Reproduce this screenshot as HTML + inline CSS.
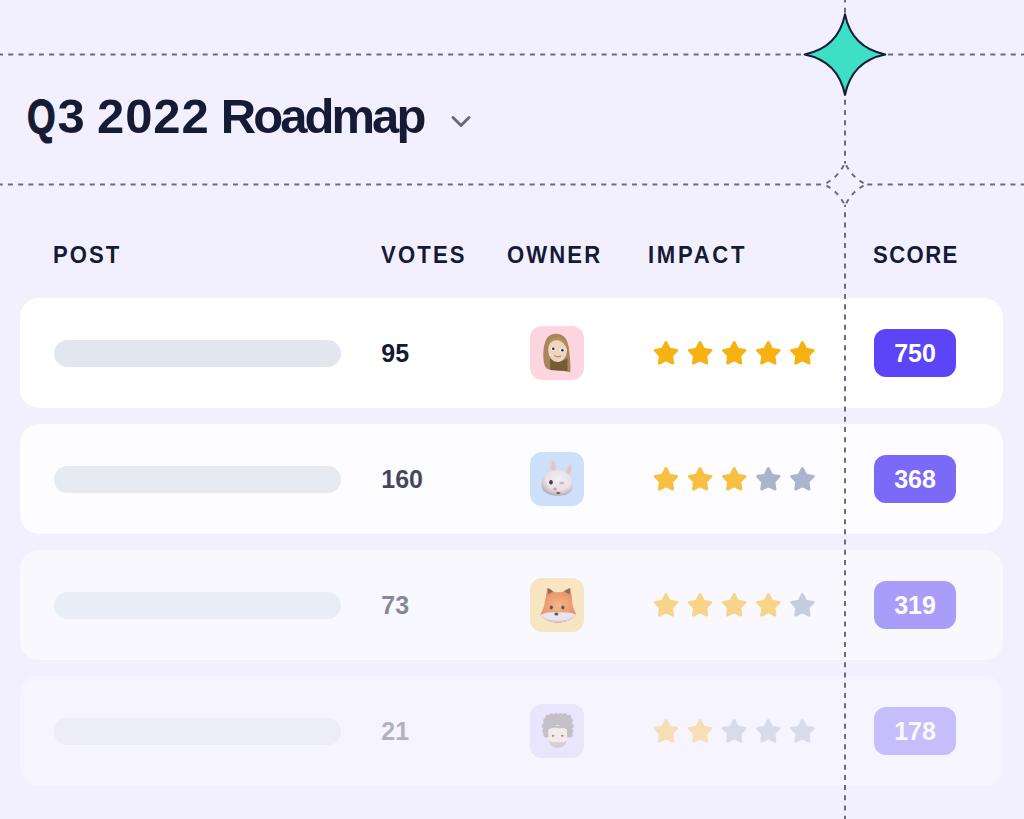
<!DOCTYPE html>
<html><head><meta charset="utf-8">
<style>
html,body{margin:0;padding:0;}
body{width:1024px;height:819px;overflow:hidden;background:#F2F0FE;position:relative;font-family:"Liberation Sans",sans-serif;color:#151A35;}
.abs{position:absolute;}
.title{position:absolute;left:26px;top:84px;font-size:49px;font-weight:700;letter-spacing:-1.8px;white-space:nowrap;line-height:64px;}
.hd{position:absolute;top:240.7px;font-size:24px;font-weight:700;line-height:28px;white-space:nowrap;transform:scaleX(0.92);transform-origin:0 0;}
.card{position:absolute;left:20.3px;width:983px;height:109.8px;border-radius:19px;background:#fff;}
.bar{position:absolute;left:34.2px;top:41.4px;width:287px;height:27px;border-radius:13.5px;background:#E1E6EF;}
.votes{position:absolute;left:361px;top:41px;font-size:25px;font-weight:700;line-height:28px;}
.av{position:absolute;left:509.3px;top:27.6px;width:54px;height:54px;border-radius:12px;overflow:hidden;}
.av svg{position:absolute;left:0;top:0;}
.stars{position:absolute;left:632.7px;top:40px;overflow:visible;}
.badge{position:absolute;left:853.7px;top:30.7px;width:82px;height:48px;border-radius:12px;background:#5B45F6;color:#fff;font-size:25px;font-weight:700;text-align:center;line-height:48px;}
</style></head>
<body>
<div class="title" style="left:26.8px;transform:scaleX(0.75);transform-origin:0 0;-webkit-text-stroke:1.1px #151A35">Q</div><div class="title" style="left:57.5px">3</div><div class="title" style="left:97px;letter-spacing:0.9px">2022</div><div class="title" style="left:220.8px;letter-spacing:-2.95px">Roadmap</div>

<div class="hd" style="left:53.2px;letter-spacing:2.2px">POST</div>
<div class="hd" style="left:381.2px;letter-spacing:2.35px">VOTES</div>
<div class="hd" style="left:507.2px;letter-spacing:2.3px">OWNER</div>
<div class="hd" style="left:647.5px;letter-spacing:2.93px">IMPACT</div>
<div class="hd" style="left:873px;letter-spacing:1.58px">SCORE</div>

<div class="card" style="top:298.3px;background:rgba(255,255,255,1.0)">
  <div class="bar" style="opacity:1.0"></div>
  <div class="votes" style="opacity:1.0">95</div>
  <div class="av" style="background:#FDD5E0;opacity:1.0"><svg width="54" height="54" viewBox="0 0 54 54">
  <path d="M25.5 7.8 C20 8 17 11 15.5 15 C13.5 20 13.2 26 13.3 30 C13.4 35 14 39.5 16.4 42.3 C19 44 23 44.3 27 44.5 C31 44.7 36 45 40.2 46.6 C40.8 41 40.2 34 39.6 29 C39 20 37.5 14 34 10.5 C31.5 8.5 28.5 7.8 25.5 7.8 Z" fill="#A88656"/>
  <path d="M20.2 32 C23 36.5 32 37 37.3 32 L37.6 44.9 C32 44.6 26 44.3 20.2 44 Z" fill="#765A34"/>
  <ellipse cx="27.6" cy="24.2" rx="9.4" ry="11.8" fill="#EFD5BF"/>
  <path d="M18.6 19 C19.5 14.5 22.5 12 26.5 12 C31.5 12 35.5 14 37 19 C37.3 20.5 37.2 22 36.8 23 C35.5 19 32.5 15.5 28 14.3 C24 13.8 20.5 15.8 18.6 19 Z" fill="#B3925E"/>
  <ellipse cx="23.2" cy="22.7" rx="2.5" ry="1.7" fill="#F3F2F2"/>
  <ellipse cx="32.2" cy="24.3" rx="2.5" ry="1.7" fill="#F3F2F2"/>
  <circle cx="23.3" cy="22.7" r="1.3" fill="#2E2F3A"/>
  <circle cx="32.4" cy="24.3" r="1.3" fill="#2E2F3A"/>
  <path d="M24.8 29.8 Q27.5 31.6 30.6 30.2" stroke="#BD8A78" stroke-width="1.3" fill="none" stroke-linecap="round"/>
 </svg></div>
  <div style="opacity:1.0"><svg class="stars" width="180" height="30" viewBox="0 0 180 30"><polygon transform="translate(13.0,15.9)" points="0.00,-11.40 3.48,-4.80 10.84,-3.52 5.64,1.83 6.70,9.22 0.00,5.93 -6.70,9.22 -5.64,1.83 -10.84,-3.52 -3.48,-4.80" fill="#F7B113" stroke="#F7B113" stroke-width="2.8" stroke-linejoin="round"/><polygon transform="translate(47.1,15.9)" points="0.00,-11.40 3.48,-4.80 10.84,-3.52 5.64,1.83 6.70,9.22 0.00,5.93 -6.70,9.22 -5.64,1.83 -10.84,-3.52 -3.48,-4.80" fill="#F7B113" stroke="#F7B113" stroke-width="2.8" stroke-linejoin="round"/><polygon transform="translate(81.2,15.9)" points="0.00,-11.40 3.48,-4.80 10.84,-3.52 5.64,1.83 6.70,9.22 0.00,5.93 -6.70,9.22 -5.64,1.83 -10.84,-3.52 -3.48,-4.80" fill="#F7B113" stroke="#F7B113" stroke-width="2.8" stroke-linejoin="round"/><polygon transform="translate(115.3,15.9)" points="0.00,-11.40 3.48,-4.80 10.84,-3.52 5.64,1.83 6.70,9.22 0.00,5.93 -6.70,9.22 -5.64,1.83 -10.84,-3.52 -3.48,-4.80" fill="#F7B113" stroke="#F7B113" stroke-width="2.8" stroke-linejoin="round"/><polygon transform="translate(149.4,15.9)" points="0.00,-11.40 3.48,-4.80 10.84,-3.52 5.64,1.83 6.70,9.22 0.00,5.93 -6.70,9.22 -5.64,1.83 -10.84,-3.52 -3.48,-4.80" fill="#F7B113" stroke="#F7B113" stroke-width="2.8" stroke-linejoin="round"/></svg></div>
  <div class="badge" style="opacity:1.0">750</div>
</div>
<div class="card" style="top:424.3px;background:rgba(255,255,255,0.8)">
  <div class="bar" style="opacity:0.85"></div>
  <div class="votes" style="opacity:0.8">160</div>
  <div class="av" style="background:#C9DEFB;opacity:0.92"><svg width="54" height="54" viewBox="0 0 54 54">
  <defs><radialGradient id="bh" cx="0.55" cy="0.35" r="0.7"><stop offset="0" stop-color="#F4EEF2"/><stop offset="0.6" stop-color="#E6DEE4"/><stop offset="1" stop-color="#A89CA8"/></radialGradient></defs>
  <path d="M19.5 19.5 C19 13 20.5 8 23.1 7.7 C26 7.6 27.3 13 26.8 20 Z" fill="#DCD2D9"/>
  <path d="M21.5 18.5 C21.3 13.5 22.2 10 23.3 9.8 C24.6 10 25.2 13.5 25 18.5 Z" fill="#E2BBC6"/>
  <path d="M34.5 21.5 C35.5 16.5 38.2 12 40.8 12 C42.8 13 42.4 18.5 40.2 23.5 Z" fill="#DCD2D9"/>
  <path d="M36.4 21 C37.3 17 38.9 14 40.5 14 C41.2 15.5 40.8 18.8 39.5 22 Z" fill="#E2BBC6"/>
  <path d="M11.5 34 C11 25 18 18.3 27 18.3 C36 18.3 42.8 24 42.8 34 C42.8 40 37.5 43.8 29 43.8 C19.5 43.8 12 40.5 11.5 34 Z" fill="url(#bh)"/>
  <ellipse cx="21" cy="30.2" rx="1.8" ry="2.2" fill="#352E3A"/>
  <ellipse cx="31.8" cy="31" rx="2.6" ry="1.5" fill="#BDB6C0"/>
  <ellipse cx="25" cy="37" rx="1.9" ry="1.4" fill="#D597A6"/>
  <ellipse cx="28.3" cy="41" rx="2.2" ry="1" fill="#6B4A55"/>
 </svg></div>
  <div style="opacity:0.8"><svg class="stars" width="180" height="30" viewBox="0 0 180 30"><polygon transform="translate(13.0,15.9)" points="0.00,-11.40 3.48,-4.80 10.84,-3.52 5.64,1.83 6.70,9.22 0.00,5.93 -6.70,9.22 -5.64,1.83 -10.84,-3.52 -3.48,-4.80" fill="#F7B113" stroke="#F7B113" stroke-width="2.8" stroke-linejoin="round"/><polygon transform="translate(47.1,15.9)" points="0.00,-11.40 3.48,-4.80 10.84,-3.52 5.64,1.83 6.70,9.22 0.00,5.93 -6.70,9.22 -5.64,1.83 -10.84,-3.52 -3.48,-4.80" fill="#F7B113" stroke="#F7B113" stroke-width="2.8" stroke-linejoin="round"/><polygon transform="translate(81.2,15.9)" points="0.00,-11.40 3.48,-4.80 10.84,-3.52 5.64,1.83 6.70,9.22 0.00,5.93 -6.70,9.22 -5.64,1.83 -10.84,-3.52 -3.48,-4.80" fill="#F7B113" stroke="#F7B113" stroke-width="2.8" stroke-linejoin="round"/><polygon transform="translate(115.3,15.9)" points="0.00,-11.40 3.48,-4.80 10.84,-3.52 5.64,1.83 6.70,9.22 0.00,5.93 -6.70,9.22 -5.64,1.83 -10.84,-3.52 -3.48,-4.80" fill="#98A2C0" stroke="#98A2C0" stroke-width="2.8" stroke-linejoin="round"/><polygon transform="translate(149.4,15.9)" points="0.00,-11.40 3.48,-4.80 10.84,-3.52 5.64,1.83 6.70,9.22 0.00,5.93 -6.70,9.22 -5.64,1.83 -10.84,-3.52 -3.48,-4.80" fill="#98A2C0" stroke="#98A2C0" stroke-width="2.8" stroke-linejoin="round"/></svg></div>
  <div class="badge" style="opacity:0.8">368</div>
</div>
<div class="card" style="top:550.3px;background:rgba(255,255,255,0.5)">
  <div class="bar" style="opacity:0.65"></div>
  <div class="votes" style="opacity:0.5">73</div>
  <div class="av" style="background:#F7E2B2;opacity:0.8"><svg width="54" height="54" viewBox="0 0 54 54">
  <defs><radialGradient id="fh" cx="0.5" cy="0.45" r="0.6"><stop offset="0" stop-color="#F3A968"/><stop offset="0.7" stop-color="#E8834C"/><stop offset="1" stop-color="#D96E3C"/></radialGradient></defs>
  <path d="M15.5 24 C15.8 18 16.5 13 17.6 10 C20.5 11 23 13 25 14.8 L31.5 14.8 C33.5 13 36.5 11 40.2 10.3 C41 13 41.8 18 42 24 Z" fill="#DD7744"/>
  <path d="M17.6 10 C19.5 10.8 21.5 12 23 13.5 L18.2 16.5 Z M40.2 10.3 C38.2 11 36 12.2 34.5 13.5 L39.6 16.5 Z" fill="#6E4C40"/>
  <path d="M10.3 37 C12 33 14 30 14.6 25 C15 20 18 15.5 23 14.5 C26 14 31 14 34 14.5 C39 15.5 42 20 42.4 25 C43 30 45 33 46 36.5 C40 43 34 44.5 28 44.5 C21 44.5 15 43 10.3 37 Z" fill="url(#fh)"/>
  <path d="M10.3 37 C15 34.5 21 34 28 34.5 C35 34 41 34.5 46 36.8 C40.5 43 34 44 28 44 C21 44 15 43 10.3 37 Z" fill="#E6E1EC"/>
  <path d="M12 38.2 C17 41.5 23 42.8 28 42.8 C33 42.8 39 41.5 44.5 38.2 C40 43 34 44 28 44 C21.5 44 16 43 12 38.2 Z" fill="#C9C2D2"/>
  <ellipse cx="21.3" cy="29.5" rx="1.6" ry="1.9" fill="#3D2E33"/>
  <ellipse cx="32.9" cy="29.5" rx="1.6" ry="1.9" fill="#3D2E33"/>
  <ellipse cx="26.4" cy="36" rx="2.1" ry="1.5" fill="#3C2E48"/>
 </svg></div>
  <div style="opacity:0.5"><svg class="stars" width="180" height="30" viewBox="0 0 180 30"><polygon transform="translate(13.0,15.9)" points="0.00,-11.40 3.48,-4.80 10.84,-3.52 5.64,1.83 6.70,9.22 0.00,5.93 -6.70,9.22 -5.64,1.83 -10.84,-3.52 -3.48,-4.80" fill="#F7B113" stroke="#F7B113" stroke-width="2.8" stroke-linejoin="round"/><polygon transform="translate(47.1,15.9)" points="0.00,-11.40 3.48,-4.80 10.84,-3.52 5.64,1.83 6.70,9.22 0.00,5.93 -6.70,9.22 -5.64,1.83 -10.84,-3.52 -3.48,-4.80" fill="#F7B113" stroke="#F7B113" stroke-width="2.8" stroke-linejoin="round"/><polygon transform="translate(81.2,15.9)" points="0.00,-11.40 3.48,-4.80 10.84,-3.52 5.64,1.83 6.70,9.22 0.00,5.93 -6.70,9.22 -5.64,1.83 -10.84,-3.52 -3.48,-4.80" fill="#F7B113" stroke="#F7B113" stroke-width="2.8" stroke-linejoin="round"/><polygon transform="translate(115.3,15.9)" points="0.00,-11.40 3.48,-4.80 10.84,-3.52 5.64,1.83 6.70,9.22 0.00,5.93 -6.70,9.22 -5.64,1.83 -10.84,-3.52 -3.48,-4.80" fill="#F7B113" stroke="#F7B113" stroke-width="2.8" stroke-linejoin="round"/><polygon transform="translate(149.4,15.9)" points="0.00,-11.40 3.48,-4.80 10.84,-3.52 5.64,1.83 6.70,9.22 0.00,5.93 -6.70,9.22 -5.64,1.83 -10.84,-3.52 -3.48,-4.80" fill="#98A2C0" stroke="#98A2C0" stroke-width="2.8" stroke-linejoin="round"/></svg></div>
  <div class="badge" style="opacity:0.5">319</div>
</div>
<div class="card" style="top:676.3px;background:rgba(255,255,255,0.3)">
  <div class="bar" style="opacity:0.5"></div>
  <div class="votes" style="opacity:0.3">21</div>
  <div class="av" style="background:#DCD7FB;opacity:0.5"><svg width="54" height="54" viewBox="0 0 54 54">
  <path d="M13 26 C12.5 18 15 12.5 19.5 11 C24 10 32 10 36.5 11 C41 12.5 43 18 42.2 26 C41.8 30.5 40.5 33 39 33.6 L16 33.6 C14.5 33 13.3 30 13 26 Z" fill="#958E94"/>
  <circle cx="14.6" cy="27" r="2.3" fill="#958E94"/><circle cx="14" cy="22" r="2.3" fill="#958E94"/><circle cx="15.5" cy="16.5" r="2.3" fill="#958E94"/><circle cx="17.5" cy="13" r="2.3" fill="#958E94"/><circle cx="21.5" cy="11.6" r="2.3" fill="#958E94"/><circle cx="26" cy="11.2" r="2.3" fill="#958E94"/><circle cx="30.5" cy="11.2" r="2.3" fill="#958E94"/><circle cx="35" cy="11.6" r="2.3" fill="#958E94"/><circle cx="39" cy="13" r="2.3" fill="#958E94"/><circle cx="40.5" cy="16.5" r="2.3" fill="#958E94"/><circle cx="41.5" cy="22" r="2.3" fill="#958E94"/><circle cx="41" cy="27" r="2.3" fill="#958E94"/><circle cx="40.5" cy="31" r="2.3" fill="#958E94"/><circle cx="15.5" cy="31" r="2.3" fill="#958E94"/>
  <path d="M18.2 28 C18.2 23 21.5 21 27.6 21 C34 21 37.1 23 37.1 28 L37.1 35 C37.1 40.5 32.5 43.4 27.8 43.4 C22.5 43.4 18.2 40.5 18.2 35 Z" fill="#F0E2DA"/>
  <path d="M18 25.5 C19.5 21 23 20 27.6 22 C32 20 36 21 37.3 25.5 C35 23.8 32 23.5 29.5 24.5 C27 23.5 22 23.5 18 25.5 Z" fill="#958E94"/>
  <path d="M18.5 36 C19.5 41 23 43.8 27.8 43.8 C32.5 43.8 36 41 37 36 C35 38.3 32 38.8 27.8 38 C23.5 38.8 20.5 38.3 18.5 36 Z" fill="#B3AAAE"/>
  <ellipse cx="23.1" cy="31.8" rx="1.3" ry="1.1" fill="#3C3438"/>
  <ellipse cx="32.3" cy="31.8" rx="1.3" ry="1.1" fill="#3C3438"/>
 </svg></div>
  <div style="opacity:0.3"><svg class="stars" width="180" height="30" viewBox="0 0 180 30"><polygon transform="translate(13.0,15.9)" points="0.00,-11.40 3.48,-4.80 10.84,-3.52 5.64,1.83 6.70,9.22 0.00,5.93 -6.70,9.22 -5.64,1.83 -10.84,-3.52 -3.48,-4.80" fill="#F7B113" stroke="#F7B113" stroke-width="2.8" stroke-linejoin="round"/><polygon transform="translate(47.1,15.9)" points="0.00,-11.40 3.48,-4.80 10.84,-3.52 5.64,1.83 6.70,9.22 0.00,5.93 -6.70,9.22 -5.64,1.83 -10.84,-3.52 -3.48,-4.80" fill="#F7B113" stroke="#F7B113" stroke-width="2.8" stroke-linejoin="round"/><polygon transform="translate(81.2,15.9)" points="0.00,-11.40 3.48,-4.80 10.84,-3.52 5.64,1.83 6.70,9.22 0.00,5.93 -6.70,9.22 -5.64,1.83 -10.84,-3.52 -3.48,-4.80" fill="#98A2C0" stroke="#98A2C0" stroke-width="2.8" stroke-linejoin="round"/><polygon transform="translate(115.3,15.9)" points="0.00,-11.40 3.48,-4.80 10.84,-3.52 5.64,1.83 6.70,9.22 0.00,5.93 -6.70,9.22 -5.64,1.83 -10.84,-3.52 -3.48,-4.80" fill="#98A2C0" stroke="#98A2C0" stroke-width="2.8" stroke-linejoin="round"/><polygon transform="translate(149.4,15.9)" points="0.00,-11.40 3.48,-4.80 10.84,-3.52 5.64,1.83 6.70,9.22 0.00,5.93 -6.70,9.22 -5.64,1.83 -10.84,-3.52 -3.48,-4.80" fill="#98A2C0" stroke="#98A2C0" stroke-width="2.8" stroke-linejoin="round"/></svg></div>
  <div class="badge" style="opacity:0.3">178</div>
</div>

<svg class="abs" style="left:0;top:0" width="1024" height="819" viewBox="0 0 1024 819">
  <g stroke="#6C6C7F" stroke-width="2" stroke-dasharray="5 5.23" fill="none">
    <line x1="-2.0" y1="54.5" x2="1024" y2="54.5"/>
    <line x1="-2.3" y1="184.5" x2="1024" y2="184.5"/>
    <line x1="845" y1="-2.6" x2="845" y2="819"/>
  </g>
  <path d="M845 14.3 Q851.7 47.7 885.3 54.5 Q851.7 61.2 845 95 Q838.3 61.2 804.6 54.5 Q838.3 47.7 845 14.3 Z" fill="#3FDFC6" stroke="#14203A" stroke-width="2" stroke-linejoin="round"/>
  <path d="M845 162.8 Q851.7 177.6 866 184.3 Q851.7 191 845 205.8 Q838.3 191 824 184.3 Q838.3 177.6 845 162.8 Z" fill="#F2F0FE" stroke="none"/>
  <g stroke="#6C6C7F" stroke-width="2" stroke-dasharray="4.8 5.44" stroke-dashoffset="7.52" fill="none">
    <path d="M845 162.8 Q851.7 177.6 866 184.3"/>
    <path d="M866 184.3 Q851.7 191 845 205.8"/>
    <path d="M845 205.8 Q838.3 191 824 184.3"/>
    <path d="M824 184.3 Q838.3 177.6 845 162.8"/>
  </g>
  <path d="M453 117.5 L461 125.5 L469 117.5" fill="none" stroke="#686A80" stroke-width="3" stroke-linecap="round" stroke-linejoin="round"/>
</svg>
</body></html>
